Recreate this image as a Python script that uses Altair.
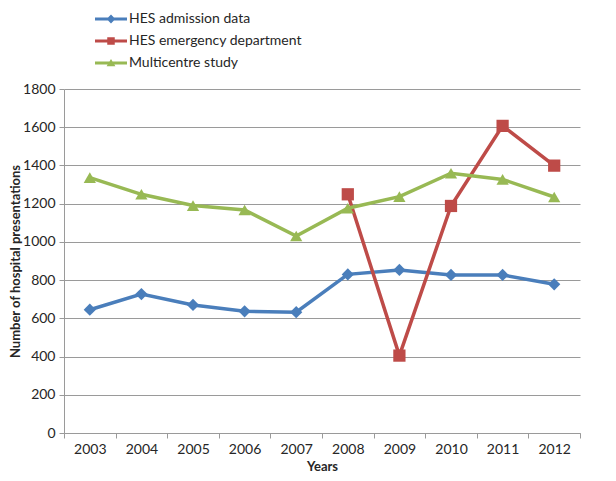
import altair as alt
import pandas as pd

years = ["2003", "2004", "2005", "2006", "2007", "2008", "2009", "2010", "2011", "2012"]
hes_admission = [645, 727, 670, 637, 632, 830, 853, 827, 827, 778]
hes_ed = [None, None, None, None, None, 1249, 405, 1188, 1607, 1399]
multicentre = [1336, 1249, 1190, 1167, 1031, 1176, 1237, 1359, 1327, 1235]

series_names = ["HES admission data", "HES emergency department", "Multicentre study"]
colors = ["#4A7EBB", "#BE4B48", "#98B954"]
marker_shapes = ["diamond", "square", "triangle-up"]
legend_shapes = [
    "M-2,-0.19H2V0.19H-2Z M0,-0.55L0.55,0L0,0.55L-0.55,0Z",
    "M-2,-0.19H2V0.19H-2Z M-0.47,-0.47H0.47V0.47H-0.47Z",
    "M-2,-0.19H2V0.19H-2Z M0,-0.5L0.55,0.4H-0.55Z",
]

rows = []
for name, vals in zip(series_names, [hes_admission, hes_ed, multicentre]):
    for y, v in zip(years, vals):
        if v is not None:
            rows.append({"year": y, "series": name, "value": v})
df = pd.DataFrame(rows)

FONT = "Lato"
TXT = "#262626"
GRID = "#9a9a9a"

x_enc = alt.X(
    "year:N",
    scale=alt.Scale(type="band", paddingInner=0, paddingOuter=0),
    axis=alt.Axis(
        title="Years", labelAngle=0, tickBand="extent", grid=False,
        domainColor=GRID, tickColor=GRID, tickSize=5, labelPadding=4,
        labelFontSize=14, titleFontSize=13, titlePadding=4,
    ),
)
y_enc = alt.Y(
    "value:Q",
    scale=alt.Scale(domain=[0, 1800], nice=False),
    axis=alt.Axis(
        title="Number of hospital presentations", format="d",
        values=list(range(0, 1801, 200)), grid=True, gridColor=GRID,
        domainColor=GRID, tickColor=GRID, tickSize=5, labelPadding=4,
        labelFontSize=14, titleFontSize=13, titlePadding=0,
    ),
)
color_scale = alt.Scale(domain=series_names, range=colors)

base = alt.Chart(df)

lines = base.mark_line(strokeWidth=3.5).encode(
    x=x_enc, y=y_enc,
    color=alt.Color("series:N", scale=color_scale, legend=None),
    detail="series:N",
)
points = base.mark_point(filled=True, size=150, opacity=1).encode(
    x=x_enc, y=y_enc,
    color=alt.Color("series:N", scale=color_scale, legend=None),
    shape=alt.Shape("series:N", scale=alt.Scale(domain=series_names, range=marker_shapes), legend=None),
)
legend_props = dict(
    title=None, orient="none", legendX=39, legendY=-78, padding=0,
    symbolSize=256, symbolStrokeWidth=0, labelOffset=10, rowPadding=7,
    labelFontSize=14, labelFont=FONT, labelColor=TXT, labelLimit=400,
)
legend_layer = base.transform_filter("datum.value < -1").mark_point(filled=True, opacity=1).encode(
    x=x_enc, y=y_enc,
    color=alt.Color("series:N", scale=color_scale, legend=alt.Legend(**legend_props)),
    shape=alt.Shape(
        "series:N", scale=alt.Scale(domain=series_names, range=legend_shapes),
        legend=alt.Legend(**legend_props),
    ),
)

chart = (
    alt.layer(lines, points, legend_layer)
    .resolve_scale(color="independent", shape="independent")
    .properties(
        width=516, height=344,
        autosize=alt.AutoSizeParams(type="none"),
        padding={"left": 56, "top": 81, "right": 28, "bottom": 40},
    )
    .configure_view(stroke=None)
    .configure_axis(labelFont=FONT, titleFont=FONT, labelColor=TXT, titleColor=TXT, titleFontWeight="bold")
    .configure_legend(labelFont=FONT)
)

chart.save("out.html", embed_options={"renderer": "svg", "actions": False})
